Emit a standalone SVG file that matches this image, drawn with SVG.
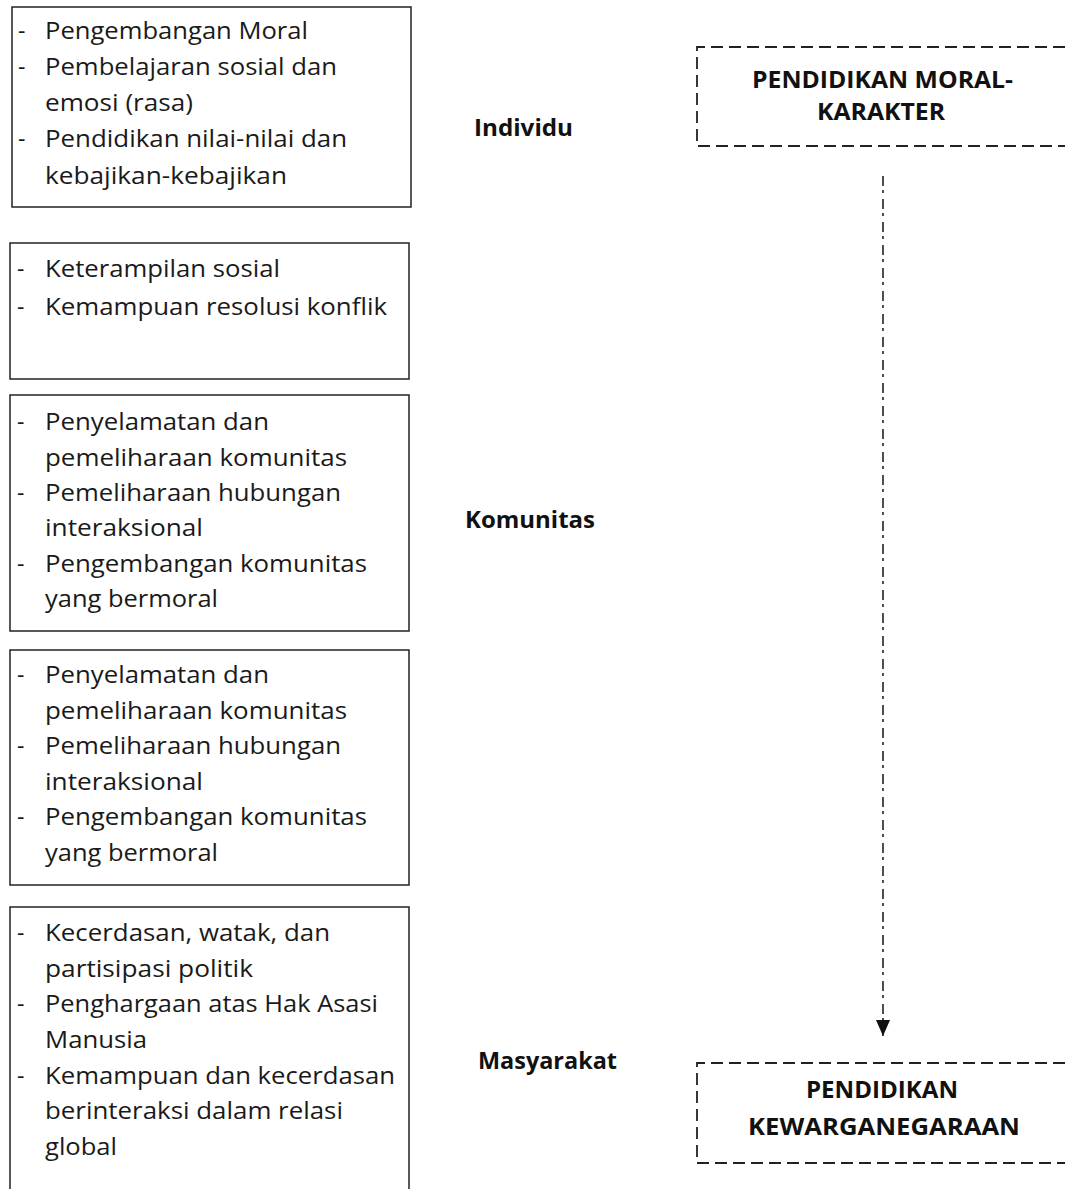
<svg xmlns="http://www.w3.org/2000/svg" width="1065" height="1189" viewBox="0 0 1065 1189">
<style>
.box{fill:#fff;stroke:#222;stroke-width:1.5}
.dbox{fill:none;stroke:#222;stroke-width:1.8;stroke-dasharray:12 6}
.t{font-family:"Open Sans","Liberation Sans",sans-serif;font-size:23px;fill:#1a1a1a}
.b{font-family:"Open Sans","Liberation Sans",sans-serif;font-weight:bold;font-size:24px;fill:#111}
.conn{stroke:#222;stroke-width:1.6;fill:none;stroke-dasharray:10 4 3 6}
</style>
<defs>
<marker id="ah" markerWidth="16" markerHeight="14" refX="16" refY="7" orient="auto" markerUnits="userSpaceOnUse" viewBox="0 0 16 14">
<path d="M0,0 L16,7 L0,14 z" fill="#111"/>
</marker>
</defs>
<rect width="1065" height="1189" fill="#fff"/>
<g id="box-individu">
<rect class="box" x="12" y="7" width="399" height="200"/>
<text class="t"><tspan x="18" y="39">-</tspan><tspan x="45" y="39" textLength="263" lengthAdjust="spacingAndGlyphs">Pengembangan Moral</tspan>
<tspan x="18" y="75">-</tspan><tspan x="45" y="75" textLength="292" lengthAdjust="spacingAndGlyphs">Pembelajaran sosial dan</tspan>
<tspan x="45" y="111" textLength="148" lengthAdjust="spacingAndGlyphs">emosi (rasa)</tspan>
<tspan x="18" y="147">-</tspan><tspan x="45" y="147" textLength="302" lengthAdjust="spacingAndGlyphs">Pendidikan nilai-nilai dan</tspan>
<tspan x="45" y="184" textLength="242" lengthAdjust="spacingAndGlyphs">kebajikan-kebajikan</tspan></text>
</g>
<g id="box-sosial">
<rect class="box" x="10" y="243" width="399" height="136"/>
<text class="t"><tspan x="17" y="277">-</tspan><tspan x="45" y="277" textLength="235" lengthAdjust="spacingAndGlyphs">Keterampilan sosial</tspan>
<tspan x="17" y="315">-</tspan><tspan x="45" y="315" textLength="342" lengthAdjust="spacingAndGlyphs">Kemampuan resolusi konflik</tspan></text>
</g>
<g id="box-komunitas1">
<rect class="box" x="10" y="395" width="399" height="236"/>
<text class="t"><tspan x="17" y="430">-</tspan><tspan x="45" y="430" textLength="224" lengthAdjust="spacingAndGlyphs">Penyelamatan dan</tspan>
<tspan x="45" y="466" textLength="302" lengthAdjust="spacingAndGlyphs">pemeliharaan komunitas</tspan>
<tspan x="17" y="501">-</tspan><tspan x="45" y="501" textLength="296" lengthAdjust="spacingAndGlyphs">Pemeliharaan hubungan</tspan>
<tspan x="45" y="536" textLength="158" lengthAdjust="spacingAndGlyphs">interaksional</tspan>
<tspan x="17" y="572">-</tspan><tspan x="45" y="572" textLength="322" lengthAdjust="spacingAndGlyphs">Pengembangan komunitas</tspan>
<tspan x="45" y="607" textLength="173" lengthAdjust="spacingAndGlyphs">yang bermoral</tspan></text>
</g>
<g id="box-komunitas2">
<rect class="box" x="10" y="650" width="399" height="235"/>
<text class="t"><tspan x="17" y="683">-</tspan><tspan x="45" y="683" textLength="224" lengthAdjust="spacingAndGlyphs">Penyelamatan dan</tspan>
<tspan x="45" y="719" textLength="302" lengthAdjust="spacingAndGlyphs">pemeliharaan komunitas</tspan>
<tspan x="17" y="754">-</tspan><tspan x="45" y="754" textLength="296" lengthAdjust="spacingAndGlyphs">Pemeliharaan hubungan</tspan>
<tspan x="45" y="790" textLength="158" lengthAdjust="spacingAndGlyphs">interaksional</tspan>
<tspan x="17" y="825">-</tspan><tspan x="45" y="825" textLength="322" lengthAdjust="spacingAndGlyphs">Pengembangan komunitas</tspan>
<tspan x="45" y="861" textLength="173" lengthAdjust="spacingAndGlyphs">yang bermoral</tspan></text>
</g>
<g id="box-masyarakat">
<path class="box" d="M10,1189 L10,907 L409,907 L409,1189"/>
<text class="t"><tspan x="17" y="941">-</tspan><tspan x="45" y="941" textLength="285" lengthAdjust="spacingAndGlyphs">Kecerdasan, watak, dan</tspan>
<tspan x="45" y="977" textLength="208" lengthAdjust="spacingAndGlyphs">partisipasi politik</tspan>
<tspan x="17" y="1012">-</tspan><tspan x="45" y="1012" textLength="333" lengthAdjust="spacingAndGlyphs">Penghargaan atas Hak Asasi</tspan>
<tspan x="45" y="1048" textLength="102" lengthAdjust="spacingAndGlyphs">Manusia</tspan>
<tspan x="17" y="1084">-</tspan><tspan x="45" y="1084" textLength="350" lengthAdjust="spacingAndGlyphs">Kemampuan dan kecerdasan</tspan>
<tspan x="45" y="1119" textLength="298" lengthAdjust="spacingAndGlyphs">berinteraksi dalam relasi</tspan>
<tspan x="45" y="1155" textLength="72" lengthAdjust="spacingAndGlyphs">global</tspan></text>
</g>
<g id="label-individu"><text class="b" x="474" y="136" textLength="99" lengthAdjust="spacingAndGlyphs">Individu</text></g>
<g id="label-komunitas"><text class="b" x="465" y="528" textLength="130" lengthAdjust="spacingAndGlyphs">Komunitas</text></g>
<g id="label-masyarakat"><text class="b" x="478" y="1069" textLength="139" lengthAdjust="spacingAndGlyphs">Masyarakat</text></g>
<g id="node-moral">
<path class="dbox" d="M1065,47 L697,47 L697,146 L1065,146"/>
<text class="b"><tspan x="752" y="88" textLength="261" lengthAdjust="spacingAndGlyphs">PENDIDIKAN MORAL-</tspan><tspan x="817" y="120" textLength="128" lengthAdjust="spacingAndGlyphs">KARAKTER</tspan></text>
</g>
<g id="node-kewarganegaraan">
<path class="dbox" d="M1065,1063 L697,1063 L697,1163 L1065,1163"/>
<text class="b"><tspan x="806" y="1098" textLength="152" lengthAdjust="spacingAndGlyphs">PENDIDIKAN</tspan><tspan x="748" y="1135" textLength="272" lengthAdjust="spacingAndGlyphs">KEWARGANEGARAAN</tspan></text>
</g>
<g id="connectors">
<line class="conn" x1="883" y1="176" x2="883" y2="1036" marker-end="url(#ah)"/>
</g>
</svg>
